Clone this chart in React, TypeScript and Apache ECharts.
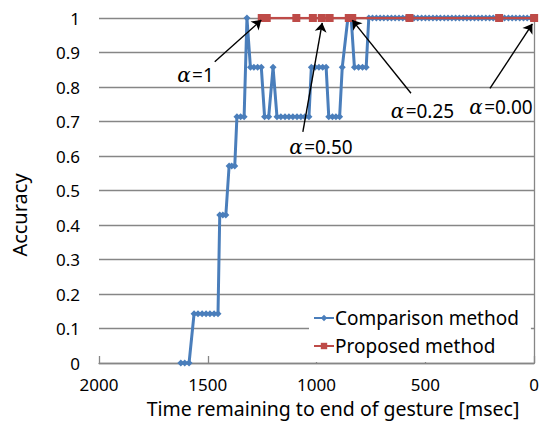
import React, { useEffect, useRef } from "react";
import * as echarts from "echarts";

// Comparison method: time remaining [msec] and accuracy
const compTimes = [
  1624, 1606, 1586,
  1563, 1545, 1526, 1508, 1490, 1471, 1453,
  1445, 1431, 1417,
  1402, 1390, 1376,
  1366, 1349, 1333,
  1320,
  1304, 1288, 1271, 1254,
  1239, 1220,
  1200,
  1182, 1164, 1145, 1127, 1109, 1090, 1072, 1054, 1035,
  1024, 1007, 989, 972, 956,
  944, 927, 911, 894,
  882,
  856, 841,
  826, 807, 789, 772,
  760, 743, 725, 708, 691, 673, 656, 639, 621, 604, 587, 569, 552, 535, 517,
  500, 483, 465, 448, 431, 413, 396, 378, 361, 344, 326, 309, 292, 274, 257,
  240, 222, 205, 188, 170, 153, 136, 118, 101, 84, 66, 49, 32, 14, 0,
];
const compValues = [
  0, 0, 0,
  0.143, 0.143, 0.143, 0.143, 0.143, 0.143, 0.143,
  0.429, 0.429, 0.429,
  0.571, 0.571, 0.571,
  0.714, 0.714, 0.714,
  1,
  0.857, 0.857, 0.857, 0.857,
  0.714, 0.714,
  0.857,
  0.714, 0.714, 0.714, 0.714, 0.714, 0.714, 0.714, 0.714, 0.714,
  0.857, 0.857, 0.857, 0.857, 0.857,
  0.714, 0.714, 0.714, 0.714,
  0.857,
  1, 1,
  0.857, 0.857, 0.857, 0.857,
  1, 1, 1, 1, 1, 1, 1, 1, 1, 1, 1, 1, 1, 1, 1,
  1, 1, 1, 1, 1, 1, 1, 1, 1, 1, 1, 1, 1, 1, 1,
  1, 1, 1, 1, 1, 1, 1, 1, 1, 1, 1, 1, 1, 1, 1,
];

// Proposed method
const propTimes = [1252, 1229, 1093, 1017, 976, 940, 852, 836, 573, 161, 0];
const propValues = [1, 1, 1, 1, 1, 1, 1, 1, 1, 1, 1];

const seriesNames = ["Comparison method", "Proposed method"];
const xTitle = "Time remaining to end of gesture [msec]";
const yTitle = "Accuracy";

// Annotations: label, arrow start/end in data space
const annotLabels = ["=1", "=0.50", "=0.25", "=0.00"];
const annotFrom = [
  [1468, 0.873],
  [1063, 0.67],
  [566, 0.782],
  [203, 0.796],
];
const annotTo = [
  [1254, 0.994],
  [974, 0.986],
  [836, 0.994],
  [8, 0.983],
];
const annotTextPos = [
  [195.5, 75],
  [321, 147],
  [422.5, 111],
  [501, 107],
];

const GRID = "#868686";
const BLUE = "#4a7ebb";
const RED = "#be4b48";
const FONT = "Noto Sans";

export default function App() {
  const ref = useRef<HTMLDivElement>(null);

  useEffect(() => {
    if (!ref.current) return;
    const chart = echarts.init(ref.current, null, { renderer: "svg" });

    const compData = compTimes.map((t, i) => [t, compValues[i]]);
    const propData = propTimes.map((t, i) => [t, propValues[i]]);

    const arrows = annotFrom.map((f, i) => [
      { coord: f, symbol: "none" },
      { coord: annotTo[i], symbol: "arrow" },
    ]);

    const texts: any[] = annotLabels.map((lab, i) => ({
      type: "text",
      x: annotTextPos[i][0],
      y: annotTextPos[i][1],
      z: 100,
      style: {
        text: "{a|α}{s| }{b|" + lab + "}",
        rich: {
          a: { fontFamily: "DejaVu Serif", fontStyle: "italic", fontSize: 20, fill: "#000" },
          s: { fontSize: 5, fontFamily: FONT },
          b: { fontFamily: FONT, fontSize: 19, fill: "#000" },
        },
        fill: "#000",
        align: "center",
        verticalAlign: "middle",
      },
    }));

    texts.push({
      type: "text",
      x: 333,
      y: 408,
      style: {
        text: xTitle,
        fontFamily: FONT,
        fontSize: 19.5,
        fill: "#000",
        align: "center",
        verticalAlign: "middle",
      },
    });
    texts.push({
      type: "text",
      x: 19.5,
      y: 215,
      rotation: Math.PI / 2,
      style: {
        text: yTitle,
        fontFamily: FONT,
        fontSize: 20,
        fill: "#000",
        align: "center",
        verticalAlign: "middle",
      },
    });

    chart.setOption({
      animation: false,
      backgroundColor: "#fff",
      grid: { left: 99, right: 7, top: 18, bottom: 58 },
      legend: {
        data: seriesNames,
        orient: "vertical",
        left: 309,
        top: 300,
        padding: [7, 12, 5, 4],
        itemGap: 6,
        itemWidth: 20,
        itemHeight: 8,
        backgroundColor: "#fff",
        textStyle: { fontFamily: FONT, fontSize: 19, color: "#000", lineHeight: 22, padding: [0, 0, 0, -4] },
        z: 10,
      },
      xAxis: {
        type: "value",
        min: 0,
        max: 2000,
        interval: 500,
        inverse: true,
        axisLine: { show: true, lineStyle: { color: GRID, width: 1.3 } },
        axisTick: { show: true, inside: true, length: 7, lineStyle: { color: GRID, width: 1.3 } },
        axisLabel: {
          fontFamily: FONT,
          fontSize: 17,
          color: "#000",
          margin: 13,
          formatter: (v: number) => String(v),
        },
        splitLine: { show: false },
      },
      yAxis: [
        {
          type: "value",
          min: 0,
          max: 1,
          interval: 0.1,
          position: "left",
          axisLine: { show: false },
          axisTick: { show: true, length: 3, lineStyle: { color: GRID, width: 1 } },
          axisLabel: { fontFamily: FONT, fontSize: 17, color: "#000", margin: 19 },
          splitLine: { show: true, lineStyle: { color: GRID, width: 1.3 } },
        },
        {
          type: "value",
          min: 0,
          max: 1,
          interval: 0.1,
          position: "right",
          axisLine: { show: true, lineStyle: { color: GRID, width: 1.3 } },
          axisTick: { show: false },
          axisLabel: { show: false },
          splitLine: { show: false },
        },
      ],
      series: [
        {
          name: seriesNames[0],
          type: "line",
          data: compData,
          color: BLUE,
          symbol: "diamond",
          symbolSize: 7,
          showAllSymbol: true,
          lineStyle: { width: 3, color: BLUE },
          itemStyle: { color: BLUE },
          z: 2,
        },
        {
          name: seriesNames[1],
          type: "line",
          data: propData,
          color: RED,
          symbol: "rect",
          symbolSize: 8,
          showAllSymbol: true,
          lineStyle: { width: 2.5, color: RED },
          itemStyle: { color: RED },
          z: 3,
          markLine: {
            silent: true,
            symbol: ["none", "arrow"],
            symbolSize: 9,
            label: { show: false },
            lineStyle: { color: "#000", width: 1.4, type: "solid" },
            emphasis: { disabled: true },
            data: arrows,
          },
        },
      ],
      graphic: texts,
    });

    return () => chart.dispose();
  }, []);

  return (
    <div
      ref={ref}
      style={{ width: 542, height: 421, position: "absolute", left: 0, top: 0 }}
    />
  );
}
